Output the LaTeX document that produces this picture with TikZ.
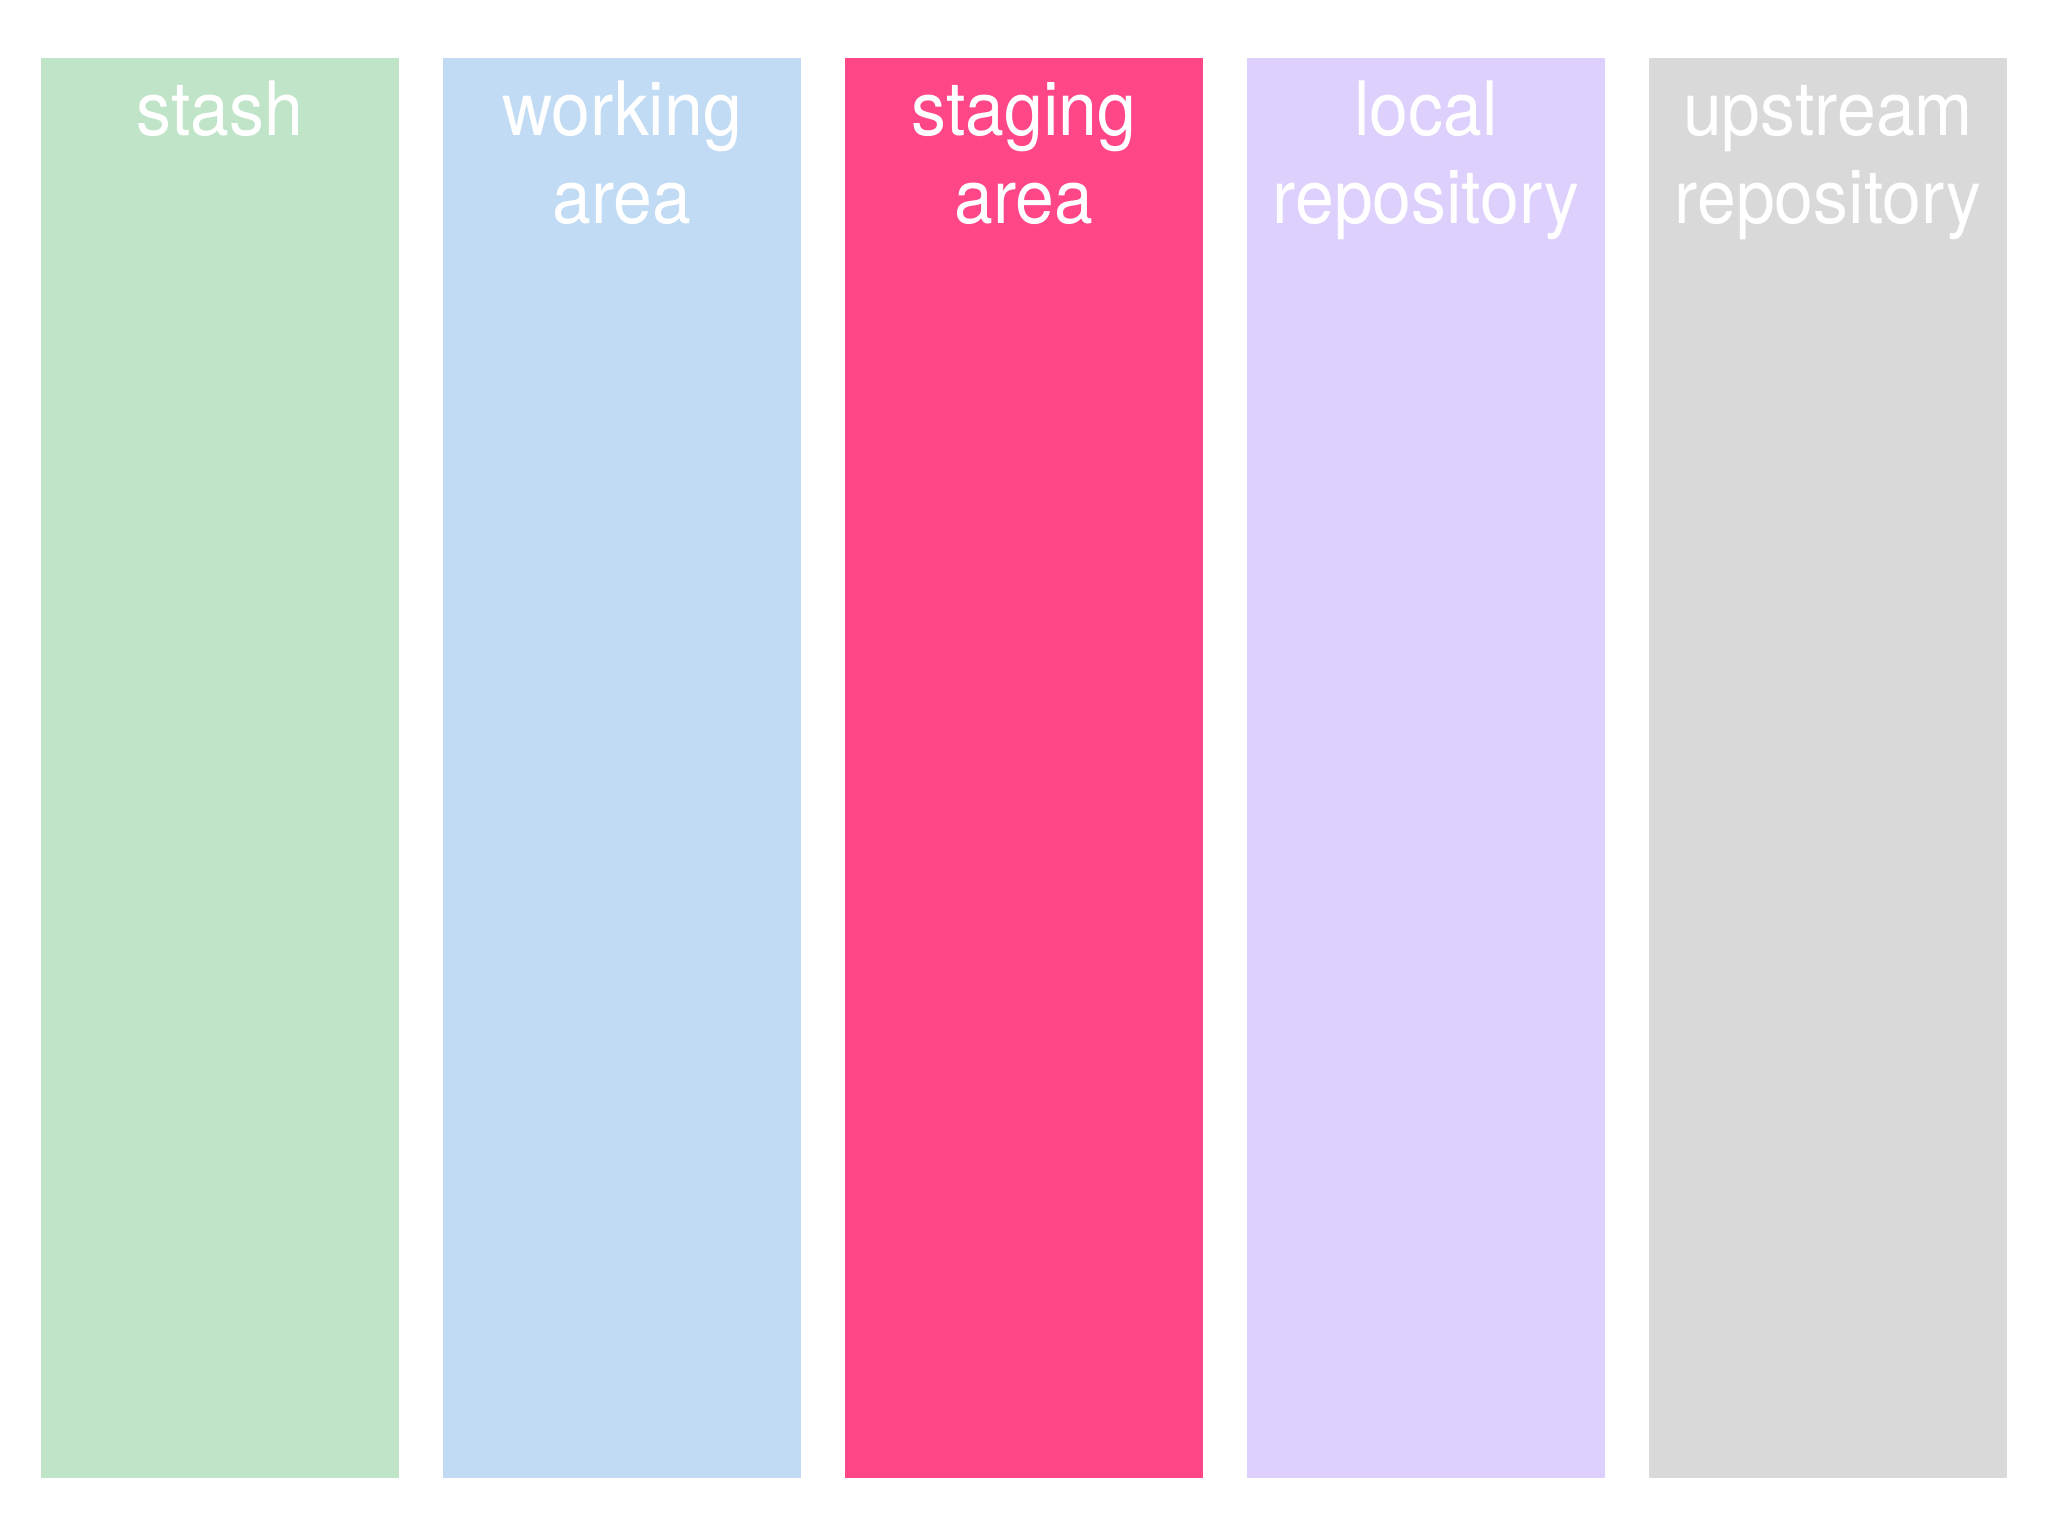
\documentclass[tikz,border=0pt]{standalone}
\usepackage{fontspec}
\setmainfont{TeX Gyre Heros}[FakeStretch=0.93]
\definecolor{stashc}{HTML}{C0E4C8}
\definecolor{workc}{HTML}{C0DBF3}
\definecolor{stagec}{HTML}{FF4689}
\definecolor{localc}{HTML}{DDD0FC}
\definecolor{upc}{HTML}{D9D9D9}
\tikzset{
  column/.style={draw=none, fill=#1, minimum width=358pt, minimum height=1420pt, inner sep=0pt, anchor=south west},
  collabel/.style={text=white, anchor=base, align=center, inner sep=0pt, font=\fontsize{75}{88}\selectfont}
}
\begin{document}
\begin{tikzpicture}[x=1pt,y=1pt]
\useasboundingbox (0,0) rectangle (2048,1536);
\node[column=stashc] (stash) at (41,58) {};
\node[column=workc] (work) at (443,58) {};
\node[column=stagec] (stage) at (845,58) {};
\node[column=localc] (local) at (1247,58) {};
\node[column=upc] (up) at (1649,58) {};
\node[collabel] (lstash) at (220,1400) {stash};
\node[collabel] (lwork) at (622,1312) {working\\area};
\node[collabel] (lstage) at (1024,1312) {staging\\area};
\node[collabel] (llocal) at (1426,1312) {local\\repository};
\node[collabel] (lup) at (1828,1312) {upstream\\repository};
\end{tikzpicture}
\end{document}
